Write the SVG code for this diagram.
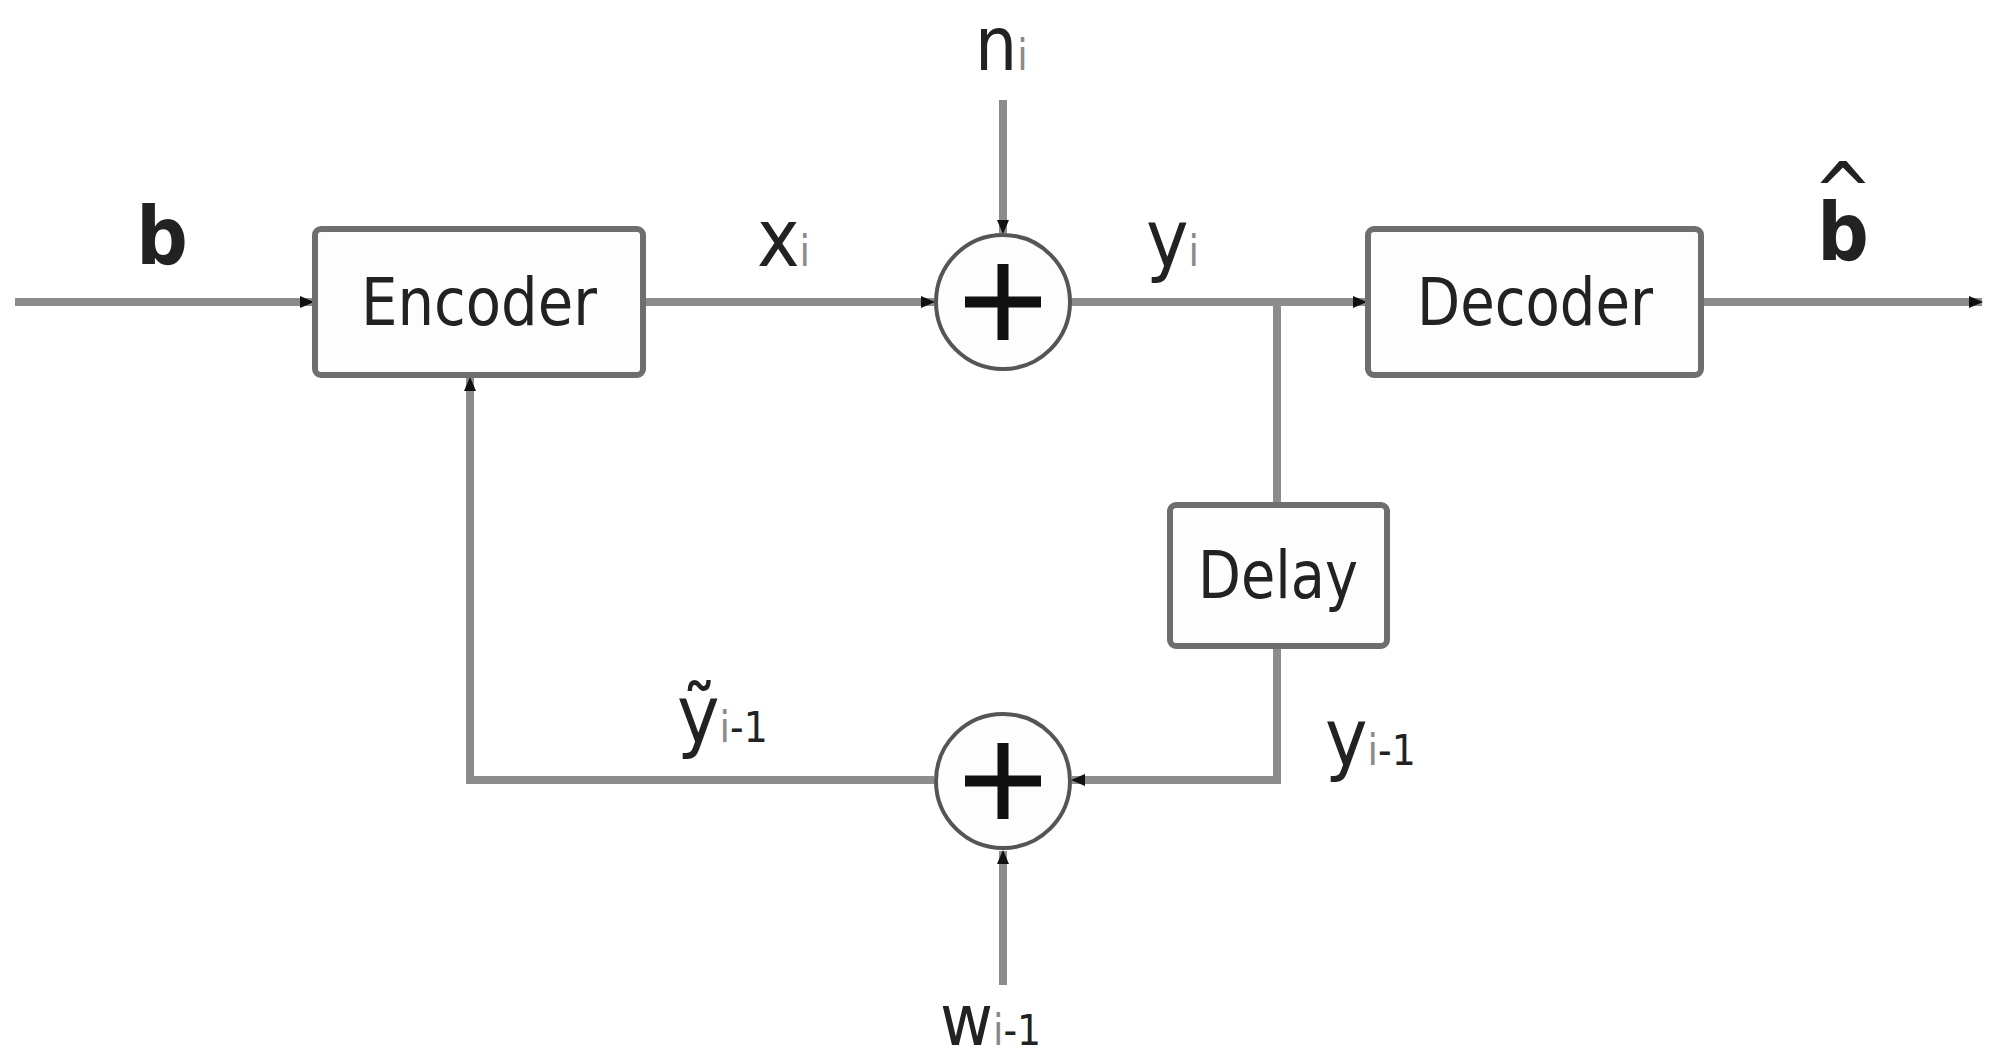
<svg xmlns="http://www.w3.org/2000/svg" width="1990" height="1064" viewBox="0 0 1990 1064">
<style>
.wire{fill:none;stroke:#8c8c8c;stroke-width:8;stroke-linejoin:miter}
.box{fill:#fdfdfd;stroke:#6e6e6e;stroke-width:6}
.sum{fill:#fdfdfd;stroke:#555;stroke-width:4}
.plus{stroke:#111;stroke-width:11}
.t{font-family:"DejaVu Sans Condensed","DejaVu Sans",sans-serif;fill:#222}
.lbl{font-size:80px}
.sub{font-size:42px;fill:#8a8a8a}
.boxt{font-size:66px;text-anchor:middle}
</style>
<defs>
<marker id="arr" markerUnits="userSpaceOnUse" markerWidth="16" markerHeight="16" refX="13" refY="8" orient="auto">
<path d="M0,2 L14,8 L0,14 z" fill="#111"/>
</marker>
</defs>
<rect width="1990" height="1064" fill="#fff"/>
<g id="connectors">
<path class="wire" d="M15,302 H313" marker-end="url(#arr)"/>
<path class="wire" d="M643,302 H934" marker-end="url(#arr)"/>
<path class="wire" d="M1003,100 V233" marker-end="url(#arr)"/>
<path class="wire" d="M1070,302 H1366" marker-end="url(#arr)"/>
<path class="wire" d="M1701,302 H1982" marker-end="url(#arr)"/>
<path class="wire" d="M1277,302 V505"/>
<path class="wire" d="M1277,645 V780 H1072" marker-end="url(#arr)"/>
<path class="wire" d="M1003,985 V851" marker-end="url(#arr)"/>
<path class="wire" d="M934,780 H470 V378" marker-end="url(#arr)"/>
</g>
<g id="encoder">
<rect class="box" x="315" y="229" width="328" height="146" rx="6"/>
<text class="t boxt" x="479" y="325" textLength="236" lengthAdjust="spacingAndGlyphs">Encoder</text>
</g>
<g id="adder1">
<circle class="sum" cx="1003" cy="302" r="67"/>
<path class="plus" d="M965,302 H1041 M1003,264 V340"/>
</g>
<g id="decoder">
<rect class="box" x="1368" y="229" width="333" height="146" rx="6"/>
<text class="t boxt" x="1535" y="325" textLength="236" lengthAdjust="spacingAndGlyphs">Decoder</text>
</g>
<g id="delay">
<rect class="box" x="1170" y="505" width="217" height="141" rx="6"/>
<text class="t boxt" x="1278" y="598" textLength="160" lengthAdjust="spacingAndGlyphs">Delay</text>
</g>
<g id="adder2">
<circle class="sum" cx="1003" cy="781" r="67"/>
<path class="plus" d="M965,781 H1041 M1003,743 V819"/>
</g>
<g id="labels">
<text class="t lbl" x="162" y="264" text-anchor="middle" font-weight="bold">b</text>
<text class="t lbl" x="757" y="266">x<tspan class="sub">i</tspan></text>
<text class="t lbl" x="1146" y="266">y<tspan class="sub">i</tspan></text>
<text class="t" x="975" y="70" font-size="74">n<tspan class="sub">i</tspan></text>
<text class="t lbl" x="1843" y="260" text-anchor="middle" font-weight="bold">b</text>
<text class="t" x="1843" y="220" text-anchor="middle" font-size="80">^</text>
<text class="t lbl" x="677" y="742">ỹ<tspan class="sub">i</tspan><tspan font-size="42">-1</tspan></text>
<text class="t lbl" x="1325" y="765">y<tspan class="sub">i</tspan><tspan font-size="42">-1</tspan></text>
<text class="t" x="940" y="1045" font-size="72">w<tspan class="sub">i</tspan><tspan font-size="42">-1</tspan></text>
</g>
</svg>
